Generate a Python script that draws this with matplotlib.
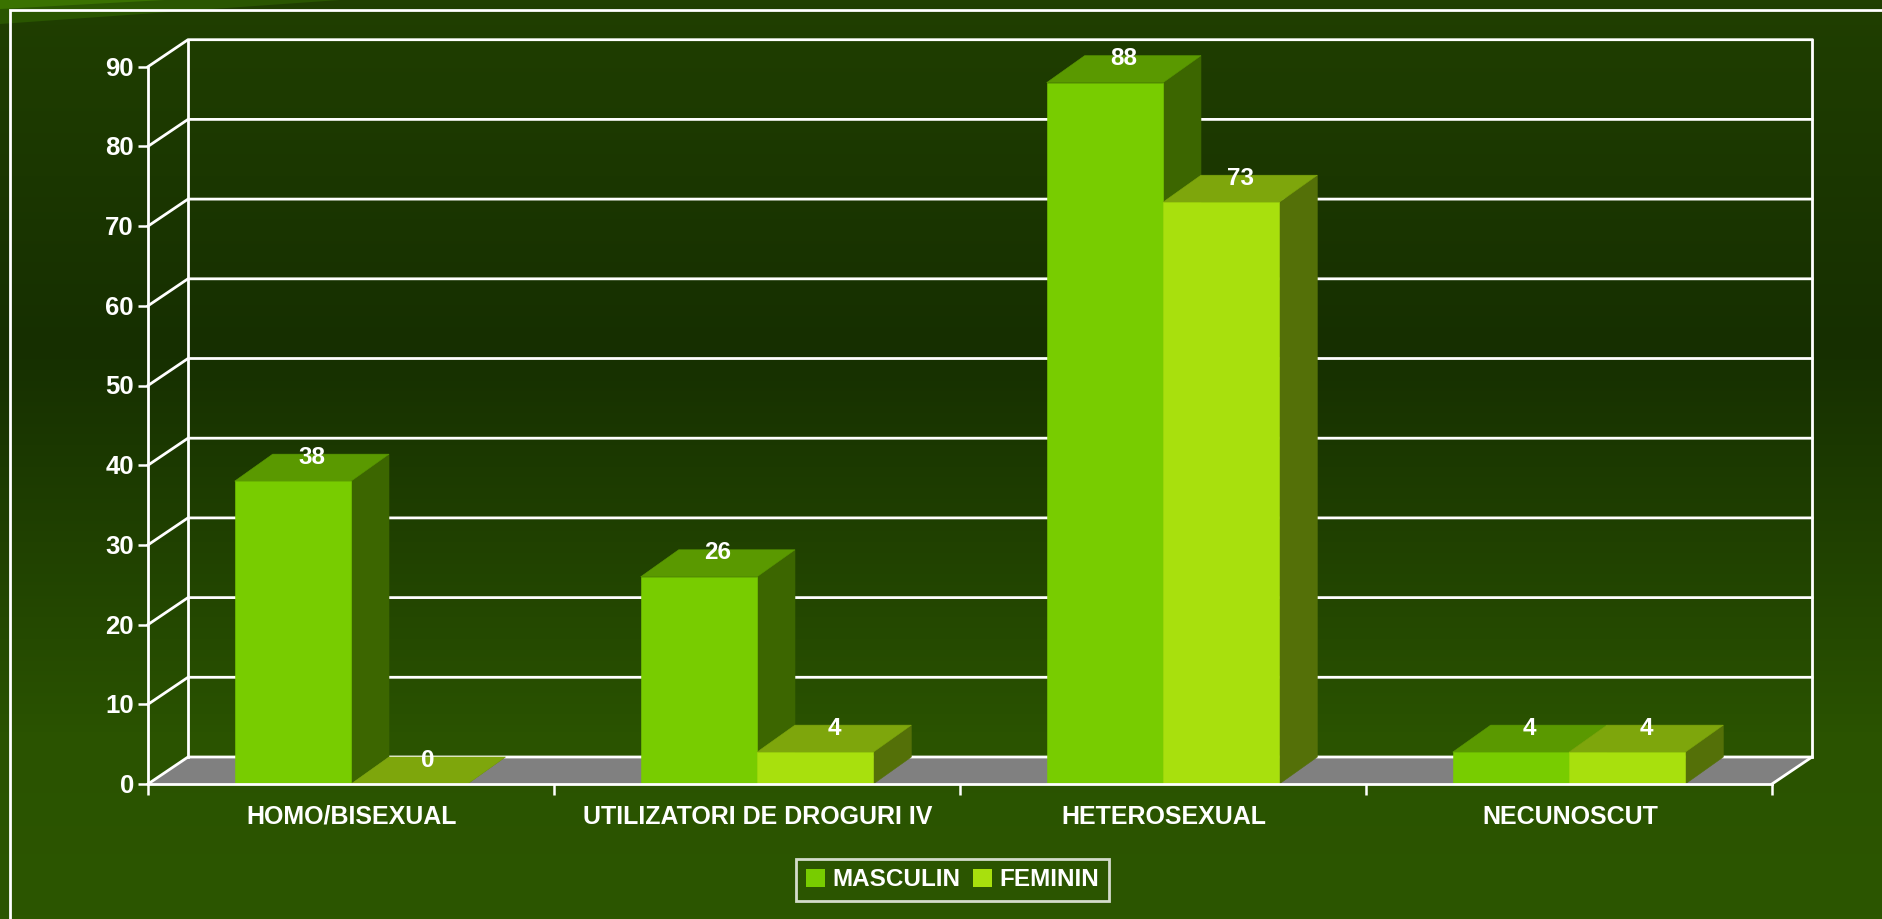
import numpy as np
import matplotlib
matplotlib.use('Agg')
import matplotlib.pyplot as plt
from matplotlib.patches import Polygon, Patch
from matplotlib.colors import LinearSegmentedColormap
from matplotlib.transforms import ScaledTranslation

plt.rcParams['font.family'] = ['Liberation Sans', 'DejaVu Sans']

categories = ['HOMO/BISEXUAL', 'UTILIZATORI DE DROGURI IV', 'HETEROSEXUAL', 'NECUNOSCUT']
masculin = [38, 26, 88, 4]
feminin = [0, 4, 73, 4]
y_ticks = [0, 10, 20, 30, 40, 50, 60, 70, 80, 90]

W, H = 1883, 919
# depth of the fake 3d, in pixels
DX, DY = 40, 27
BAR_DX = 38
LINE = 2.0
white = '#ffffff'

fig = plt.figure(figsize=(W / 100, H / 100), dpi=100)

# background gradient and the corner swoosh
bg = fig.add_axes([0, 0, 1, 1], zorder=0)
cmap = LinearSegmentedColormap.from_list('bg', [(0, '#203f00'), (0.38, '#162f00'), (0.8, '#2a5300'), (1, '#2c5600')])
bg.imshow(np.linspace(0, 1, 256).reshape(-1, 1), aspect='auto', cmap=cmap, extent=[0, W, H, 0])
bg.set_xlim(0, W)
bg.set_ylim(H, 0)
bg.axis('off')
bg.add_patch(Polygon([(0, 0), (340, 0), (0, 24)], fc='#2a5600', ec='none'))
bg.add_patch(Polygon([(0, 0), (165, 0), (0, 9)], fc='#3a7200', ec='none'))
bg.plot([10.5, 10.5, W + 5], [H + 5, 9.5, 9.5], color=white, lw=LINE, solid_joinstyle='miter')

# front plane of the chart
left, right, bottom, top = 148, 1772, 784, 66.7
ax = fig.add_axes([left / W, 1 - bottom / H, (right - left) / W, (bottom - top) / H], zorder=1)
ax.patch.set_alpha(0)
ax.set_xlim(-0.5, 3.5)
ax.set_ylim(0, 90)
for s in ax.spines.values():
    s.set_visible(False)

dx = DX * 4 / (right - left)
bar_dx = BAR_DX * 4 / (right - left)
dy = DY * 90 / (bottom - top)
x0, x1 = -0.5, 3.5
bar_w = 0.2865

# floor
ax.add_patch(Polygon([(x0, 0), (x0 + dx, dy), (x1 + dx, dy), (x1, 0)], fc='#808080', ec='none', clip_on=False, zorder=1))

# walls and gridlines
line_kw = dict(color=white, lw=LINE, clip_on=False, zorder=2, solid_capstyle='projecting')
for t in y_ticks:
    ax.plot([x0, x0 + dx, x1 + dx], [t, t + dy, t + dy], **line_kw)
ax.plot([x0, x0], [0, 90], **line_kw)
ax.plot([x0 + dx, x0 + dx], [dy, 90 + dy], **line_kw)
ax.plot([x1 + dx, x1 + dx], [dy, 90 + dy], **line_kw)
ax.plot([x1, x1 + dx], [0, dy], **line_kw)


def bar3d(x, v, front, side, roof):
    w = bar_w
    d = bar_dx
    ax.add_patch(Polygon([(x + w, 0), (x + w + d, dy), (x + w + d, v + dy), (x + w, v)], fc=side, ec=side, lw=0.4, clip_on=False, zorder=3))
    ax.add_patch(Polygon([(x, v), (x + d, v + dy), (x + w + d, v + dy), (x + w, v)], fc=roof, ec=roof, lw=0.4, clip_on=False, zorder=3))
    ax.bar(x, v, width=w, align='edge', color=front, ec=front, lw=0.4, clip_on=False, zorder=3)
    ax.text(x + w / 2 + d / 2, v + dy - 0.4, str(v), color=white, fontsize=17.5, fontweight='bold', ha='center', va='center', zorder=5, clip_on=False)


pos = np.arange(len(categories))
for i in pos:
    bar3d(i - bar_w, masculin[i], '#78cc00', '#3c6600', '#5a9900')
    bar3d(i, feminin[i], '#a8e00d', '#547008', '#7ea60c')

# front floor line drawn over the bars
ax.plot([x0, x1], [0, 0], color=white, lw=LINE, clip_on=False, zorder=4, solid_capstyle='projecting')

ax.set_yticks(y_ticks)
ax.set_xticks(np.arange(-0.5, 4, 1))
ax.set_xticklabels([])
ax.tick_params(axis='y', length=7.2, width=LINE * 0.9, color=white, labelcolor=white, labelsize=18.5, pad=3)
ax.tick_params(axis='x', length=7.9, width=LINE * 0.9, color=white)
shift = ScaledTranslation(0, -2 / 100, fig.dpi_scale_trans)
for lab in ax.get_yticklabels():
    lab.set_fontweight('bold')
    lab.set_verticalalignment('center')
    lab.set_transform(lab.get_transform() + shift)
for i, c in zip(pos, categories):
    ax.annotate(c, (i, 0), xytext=(1, -33), xycoords='data', textcoords='offset pixels', color=white, fontsize=18, fontweight='bold', ha='center', va='center', annotation_clip=False)

handles = [Patch(fc='#78cc00', label='MASCULIN'), Patch(fc='#a8e00d', label='FEMININ')]
leg = ax.legend(handles=handles, ncol=2, loc='center', frameon=True, fancybox=False, facecolor='none', edgecolor=white,
                labelcolor=white, prop={'weight': 'bold', 'size': 17.5}, handlelength=0.78, handleheight=0.72,
                handletextpad=0.33, columnspacing=0.5, borderpad=0.4, borderaxespad=0)
leg.get_frame().set_linewidth(LINE)
leg.set_bbox_to_anchor((952.5 / W, 1 - 880 / H), transform=fig.transFigure)

fig.savefig('out.png', dpi=100)
